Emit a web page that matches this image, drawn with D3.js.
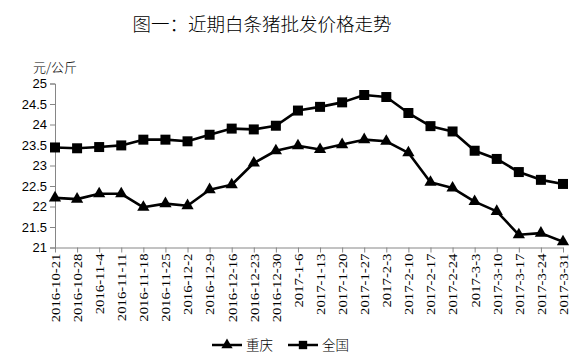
<!DOCTYPE html>
<html><head><meta charset="utf-8">
<script src="https://d3js.org/d3.v7.min.js"></script>
<style>body{margin:0;background:#fff}svg{display:block}</style>
</head><body>
<svg id="c" width="580" height="364"></svg>
<script>
const categories = ["2016-10-21","2016-10-28","2016-11-4","2016-11-11","2016-11-18","2016-11-25","2016-12-2","2016-12-9","2016-12-16","2016-12-23","2016-12-30","2017-1-6","2017-1-13","2017-1-20","2017-1-27","2017-2-3","2017-2-10","2017-2-17","2017-2-24","2017-3-3","2017-3-10","2017-3-17","2017-3-24","2017-3-31"];
const chongqing = [22.21,22.18,22.31,22.31,21.98,22.07,22.02,22.41,22.53,23.06,23.36,23.48,23.39,23.51,23.63,23.59,23.31,22.59,22.45,22.12,21.88,21.31,21.35,21.14];
const national = [23.44,23.42,23.45,23.49,23.63,23.63,23.59,23.75,23.90,23.88,23.97,24.34,24.43,24.54,24.72,24.67,24.28,23.96,23.83,23.36,23.16,22.84,22.65,22.55];
const yTicks = [21,21.5,22,22.5,23,23.5,24,24.5,25];
const title = "图一：近期白条猪批发价格走势";
const unit = "元/公斤";
const seriesNames = ["重庆","全国"];

const svg = d3.select("#c");
const cjk = "'Noto Sans CJK SC','Noto Sans',sans-serif";
const axisColor = "#868686";
const x = d3.scalePoint().domain(categories).range([55, 563]);
const y = d3.scaleLinear().domain([21, 25]).range([247.5, 83.5]);

svg.append("text").attr("x", 262).attr("y", 31).attr("text-anchor","middle")
  .style("font-family", cjk).style("font-size","18.5px").style("font-weight","300").text(title);
svg.append("text").attr("x", 33).attr("y", 72)
  .style("font-family", cjk).style("font-size","13px").style("font-weight","300").text(unit);

const ya = svg.append("g").attr("transform","translate(55,0)")
  .call(d3.axisLeft(y).tickValues(yTicks).tickSize(5).tickPadding(3).tickFormat(d3.format("")));
ya.select(".domain").attr("stroke", axisColor);
ya.selectAll(".tick line").attr("stroke", axisColor);
ya.selectAll("text").style("font-family","'Liberation Sans',Arial,sans-serif").style("font-size","13px").attr("fill","#000");

const xa = svg.append("g").attr("transform","translate(0,247.5)")
  .call(d3.axisBottom(x).tickSize(5).tickSizeOuter(0));
xa.select(".domain").attr("stroke", axisColor);
xa.selectAll(".tick line").attr("stroke", axisColor);
xa.selectAll("text").style("font-family","'Liberation Serif','Times New Roman',serif").style("font-size","12.5px").attr("fill","#000")
  .attr("x",0).attr("y",0).attr("dy","0.35em").attr("text-anchor","end")
  .attr("transform","translate(0,6) rotate(-90) scale(1.18,1)");

const line = d3.line().x((d,i)=>x(categories[i])).y(d=>y(d));
function drawSeries(vals, shape){
  svg.append("path").datum(vals).attr("d", line).attr("fill","none").attr("stroke","#000").attr("stroke-width",2.6).attr("stroke-linejoin","round");
  const sym = d3.symbol().type(shape).size(shape===d3.symbolSquare?100:65);
  svg.selectAll(null).data(vals).enter().append("path")
    .attr("d", sym).attr("transform",(d,i)=>`translate(${x(categories[i])},${y(d)})`).attr("fill","#000");
}
drawSeries(chongqing, d3.symbolTriangle);
drawSeries(national, d3.symbolSquare);

const leg = [{n:seriesNames[0], s:d3.symbolTriangle, x0:212},{n:seriesNames[1], s:d3.symbolSquare, x0:288}];
leg.forEach(l=>{
  svg.append("line").attr("x1",l.x0).attr("x2",l.x0+30).attr("y1",345).attr("y2",345).attr("stroke","#000").attr("stroke-width",2.5);
  svg.append("path").attr("d", d3.symbol().type(l.s).size(l.s===d3.symbolSquare?70:55)()).attr("transform",`translate(${l.x0+15},345)`).attr("fill","#000");
  svg.append("text").attr("x", l.x0+34).attr("y", 350).style("font-family",cjk).style("font-size","13.5px").style("font-weight","300").text(l.n);
});
</script>
</body></html>
